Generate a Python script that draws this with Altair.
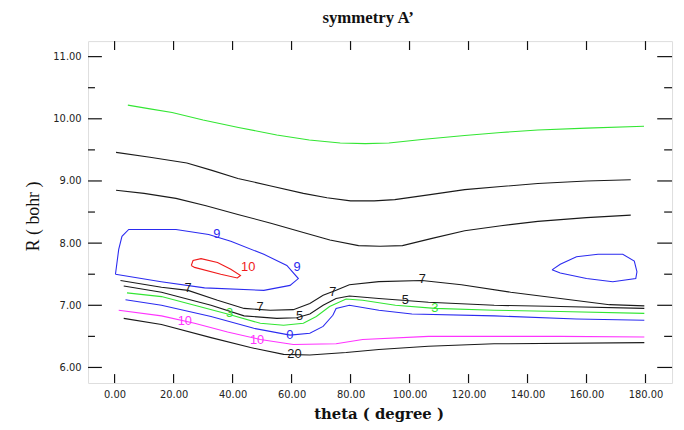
import altair as alt
import pandas as pd

# ---- contour polylines (theta in degrees, R in bohr) ----
green_top = [(4.5, 10.22), (12, 10.16), (19.5, 10.10), (30, 9.98), (42, 9.86), (55, 9.74),
             (66, 9.66), (76.5, 9.61), (85, 9.60), (93, 9.61), (105, 9.67), (118.7, 9.73),
             (131, 9.78), (143.5, 9.82), (160, 9.85), (179.5, 9.88)]
black_upper = [(0.5, 9.46), (12, 9.38), (24.5, 9.29), (33, 9.17), (41.8, 9.04), (53, 8.92),
               (64, 8.80), (72, 8.73), (80, 8.68), (88, 8.68), (95, 8.70), (107, 8.78),
               (118.7, 8.86), (131, 8.91), (143.5, 8.96), (160, 9.00), (175, 9.02)]
black_second = [(0.5, 8.85), (10, 8.80), (20.8, 8.72), (31, 8.60), (41.8, 8.46), (53, 8.32),
                (64, 8.17), (73, 8.05), (82.7, 7.96), (90, 7.95), (97.6, 7.96), (108, 8.08),
                (118.7, 8.20), (131, 8.28), (143.5, 8.35), (160, 8.41), (175, 8.45)]
blue_loop_left = [(0.3, 7.50), (1.4, 7.90), (2.5, 8.11), (4.8, 8.22), (20.8, 8.22), (31.9, 8.14),
                  (39.4, 8.03), (50.6, 7.82), (58.4, 7.64), (62.3, 7.43), (59.5, 7.32),
                  (50.6, 7.24), (30.5, 7.28), (15.8, 7.38), (0.3, 7.50)]
red_loop = [(26.0, 7.64), (26.6, 7.72), (29.3, 7.75), (34.9, 7.69), (39.4, 7.58), (42.7, 7.48),
            (41.6, 7.44), (36.0, 7.50), (27.1, 7.61), (26.0, 7.64)]
blue_loop_right = [(148.3, 7.57), (151.1, 7.66), (156.6, 7.78), (163.9, 7.82), (172.3, 7.82),
                   (176.2, 7.71), (177.1, 7.54), (176.7, 7.43), (168.9, 7.38), (160.0, 7.43),
                   (151.1, 7.52), (148.3, 7.57)]
black_7 = [(2.0, 7.40), (15.9, 7.29), (24.9, 7.24), (34.9, 7.08), (43.9, 6.95), (52.8, 6.92),
           (60.6, 6.93), (66.2, 7.03), (70.7, 7.16), (75.1, 7.24), (79.6, 7.33), (89.6, 7.38),
           (104.2, 7.40), (117.6, 7.33), (134.3, 7.21), (151.1, 7.11), (167.8, 7.01), (179.6, 6.99)]
black_5 = [(3.1, 7.31), (15.9, 7.21), (32.7, 7.00), (43.9, 6.83), (55.0, 6.79), (61.7, 6.80),
           (66.2, 6.86), (70.7, 7.00), (75.1, 7.11), (79.6, 7.15), (89.6, 7.11), (97.5, 7.08),
           (106.4, 7.05), (128.7, 7.00), (151.1, 6.98), (179.6, 6.95)]
green_3 = [(4.2, 7.20), (15.9, 7.14), (27.1, 7.00), (38.3, 6.86), (49.4, 6.71), (57.3, 6.68),
           (64.0, 6.71), (68.4, 6.82), (72.9, 6.98), (78.5, 7.10), (84.1, 7.08), (95.2, 7.00),
           (108.6, 6.95), (128.7, 6.92), (151.1, 6.90), (179.6, 6.87)]
blue_0 = [(3.7, 7.09), (15.9, 7.00), (32.7, 6.82), (47.2, 6.63), (59.5, 6.52), (66.2, 6.55),
          (70.7, 6.66), (74.0, 6.84), (75.1, 6.95), (79.6, 7.00), (89.6, 6.92), (100.8, 6.86),
          (128.7, 6.83), (156.6, 6.78), (179.6, 6.76)]
magenta_10 = [(1.4, 6.92), (15.9, 6.83), (27.1, 6.71), (38.3, 6.57), (49.4, 6.45), (60.6, 6.37),
              (75.1, 6.38), (84.1, 6.45), (106.4, 6.50), (151.1, 6.50), (179.6, 6.49)]
black_20 = [(3.1, 6.79), (15.9, 6.69), (32.7, 6.48), (46.1, 6.32), (57.3, 6.21), (66.2, 6.20),
            (78.5, 6.24), (89.6, 6.29), (106.4, 6.34), (128.7, 6.38), (179.6, 6.40)]

contour_names = ["green_top", "black_upper", "black_second", "blue_loop_left", "red_loop",
                 "blue_loop_right", "black_7", "black_5", "green_3", "blue_0",
                 "magenta_10", "black_20"]
contour_points = [green_top, black_upper, black_second, blue_loop_left, red_loop,
                  blue_loop_right, black_7, black_5, green_3, blue_0, magenta_10, black_20]
contour_colors = ["#33e633", "#1a1a1a", "#1a1a1a", "#2b2bf0", "#f01a1a", "#2b2bf0",
                  "#1a1a1a", "#1a1a1a", "#33e633", "#2b2bf0", "#ff33ff", "#1a1a1a"]

# ---- contour labels ----
label_texts = ["9", "9", "10", "7", "7", "7", "7", "5", "5", "3", "3", "0", "10", "10", "20"]
label_theta = [34.7, 61.9, 45.3, 24.9, 49.3, 74.0, 104.3, 62.7, 98.6, 39.0, 108.6, 59.4, 23.8, 48.3, 61.0]
label_r = [8.14, 7.62, 7.61, 7.27, 6.97, 7.22, 7.43, 6.82, 7.09, 6.87, 6.95, 6.52, 6.75, 6.44, 6.22]
label_contour = ["blue_loop_left", "blue_loop_left", "red_loop", "black_7", "black_7", "black_7",
                 "black_7", "black_5", "black_5", "green_3", "green_3", "blue_0",
                 "magenta_10", "magenta_10", "black_20"]

# ---- axes ----
x_ticks = [0, 20, 40, 60, 80, 100, 120, 140, 160, 180]
y_major = [6, 7, 8, 9, 10, 11]
y_minor = [6.5, 7.5, 8.5, 9.5, 10.5]
x_domain = [-9, 189]
y_domain = [5.75, 11.25]

W, H = 591, 346

rows = []
for name, pts in zip(contour_names, contour_points):
    for i, (t, r) in enumerate(pts):
        rows.append({"contour": name, "idx": i, "theta": t, "r": r})
df = pd.DataFrame(rows)
lab_df = pd.DataFrame({"text": label_texts, "theta": label_theta, "r": label_r,
                       "contour": label_contour})

xs = alt.Scale(domain=x_domain, nice=False, zero=False)
ys = alt.Scale(domain=y_domain, nice=False, zero=False)
cs = alt.Scale(domain=contour_names, range=contour_colors)

x_axis = alt.Axis(values=x_ticks, format=".2f", ticks=False, tickSize=0, domain=False, grid=False,
                  labelFont="DejaVu Sans", labelFontSize=10, labelColor="#222", labelPadding=7,
                  title="theta ( degree )", titleFont="DejaVu Serif", titleFontSize=15,
                  titleFontWeight="bold", titleColor="#111", titleX=294, titleY=31,
                  titleBaseline="middle", titleAlign="center")
y_axis = alt.Axis(values=y_major, format=".2f", ticks=False, tickSize=0, domain=False, grid=False,
                  labelFont="DejaVu Sans", labelFontSize=10, labelColor="#222", labelPadding=7,
                  title="R ( bohr )", titleFont="Liberation Serif", titleFontSize=18,
                  titleFontWeight="normal", titleColor="#111", titleX=-55, titleY=177,
                  titleAngle=-90, titleBaseline="middle", titleAlign="center")

lines = alt.Chart(df).mark_line(strokeWidth=1.1, interpolate="linear").encode(
    x=alt.X("theta:Q", scale=xs, axis=x_axis),
    y=alt.Y("r:Q", scale=ys, axis=y_axis),
    color=alt.Color("contour:N", scale=cs, legend=None),
    detail="contour:N",
    order="idx:Q",
)

labels = alt.Chart(lab_df).mark_text(font="Liberation Sans", fontSize=13).encode(
    x=alt.X("theta:Q", scale=xs),
    y=alt.Y("r:Q", scale=ys),
    text="text:N",
    color=alt.Color("contour:N", scale=cs, legend=None),
)

tick_color = "#111"
ymaj_df = pd.DataFrame({"v": y_major})
ymin_df = pd.DataFrame({"v": y_minor})
xt_df = pd.DataFrame({"v": x_ticks})

y_major_left = alt.Chart(ymaj_df).mark_rule(color=tick_color, strokeWidth=1.2).encode(
    y=alt.Y("v:Q", scale=ys), x=alt.value(0), x2=alt.value(14))
y_major_right = alt.Chart(ymaj_df).mark_rule(color=tick_color, strokeWidth=1.2).encode(
    y=alt.Y("v:Q", scale=ys), x=alt.value(W - 15), x2=alt.value(W))
y_minor_left = alt.Chart(ymin_df).mark_rule(color=tick_color, strokeWidth=1.2).encode(
    y=alt.Y("v:Q", scale=ys), x=alt.value(0), x2=alt.value(7))
y_minor_right = alt.Chart(ymin_df).mark_rule(color=tick_color, strokeWidth=1.2).encode(
    y=alt.Y("v:Q", scale=ys), x=alt.value(W - 8), x2=alt.value(W))
x_bottom = alt.Chart(xt_df).mark_rule(color=tick_color, strokeWidth=1.2).encode(
    x=alt.X("v:Q", scale=xs), y=alt.value(H - 9), y2=alt.value(H))
x_top = alt.Chart(xt_df).mark_rule(color=tick_color, strokeWidth=1.2).encode(
    x=alt.X("v:Q", scale=xs), y=alt.value(0), y2=alt.value(9))

chart = alt.layer(
    y_major_left, y_major_right, y_minor_left, y_minor_right, x_bottom, x_top, lines, labels
).properties(
    width=W, height=H,
    title=alt.TitleParams("symmetry A\u2019", font="Liberation Serif", fontSize=17,
                          fontWeight="bold", color="#111", anchor="middle", dx=-12, offset=14),
    autosize=alt.AutoSizeParams(type="none"),
    padding={"left": 81, "top": 31, "right": 4, "bottom": 38},
).configure_view(stroke="#8a8a8a", strokeWidth=1.5).configure(background="white")

chart.save("out.html", embed_options={"renderer": "svg", "actions": False})
